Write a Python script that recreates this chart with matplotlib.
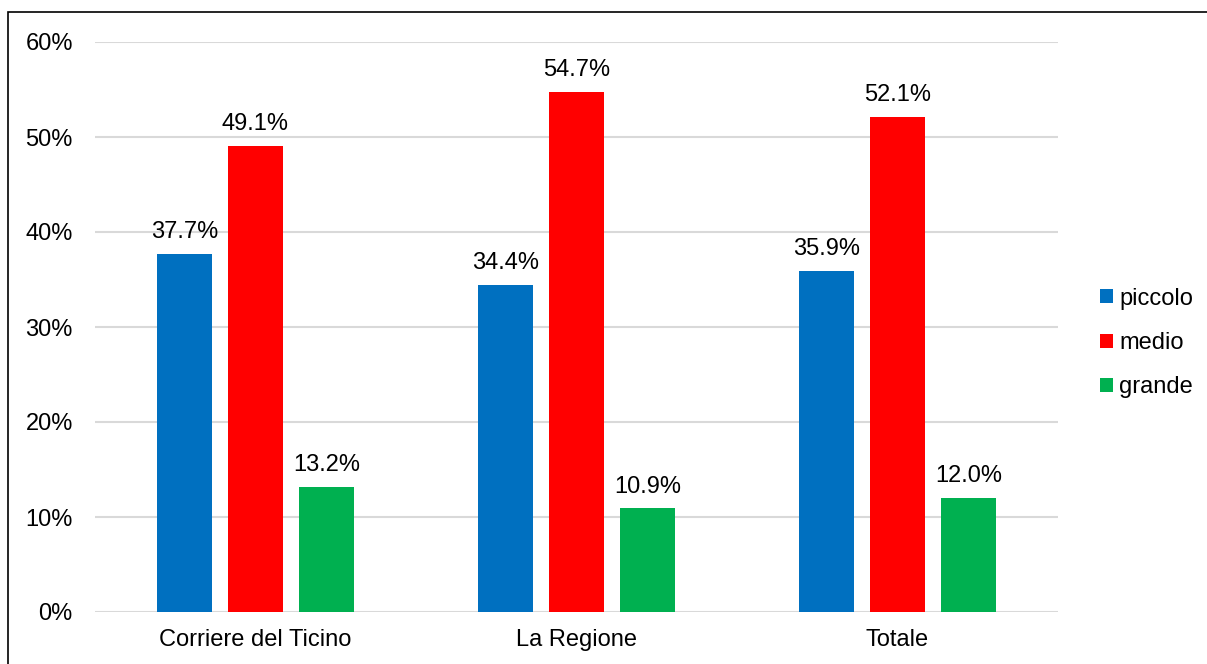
import matplotlib
matplotlib.use("Agg")
import matplotlib.pyplot as plt
import numpy as np
from matplotlib.patches import Rectangle

plt.rcParams["font.family"] = ["Liberation Sans", "DejaVu Sans"]

categories = ["Corriere del Ticino", "La Regione", "Totale"]
series_names = ["piccolo", "medio", "grande"]
piccolo = [37.7, 34.4, 35.9]
medio = [49.1, 54.7, 52.1]
grande = [13.2, 10.9, 12.0]
colors = ["#0070C0", "#FF0000", "#00B050"]

W, H = 1207, 664
FS = 17
fig = plt.figure(figsize=(W / 100, H / 100), dpi=100)
ax = fig.add_axes([95 / W, 1 - 612 / H, (1058 - 95) / W, (612 - 42) / H])

x = np.arange(len(categories))
width = 55 / 321
step = 71 / 321
for i, (name, vals, col) in enumerate(zip(series_names, [piccolo, medio, grande], colors)):
    pos = x + (i - 1) * step
    ax.bar(pos, vals, width, color=col, label=name, zorder=3)
    for p, v in zip(pos, vals):
        ax.text(p, v + 1.15, f"{v:.1f}%", ha="center", va="bottom", fontsize=FS, color="#000000")

ax.set_xlim(-0.5, 2.5)
ax.set_ylim(0, 60)
ax.set_yticks(range(0, 61, 10))
ax.set_yticklabels([f"{t}%" for t in range(0, 61, 10)], fontsize=FS)
ax.set_xticks(x)
ax.set_xticklabels(categories, fontsize=FS)
ax.tick_params(length=0)
ax.tick_params(axis="y", pad=16)
ax.tick_params(axis="x", pad=12)
ax.yaxis.grid(True, color="#d9d9d9", linewidth=1.5, zorder=0)
for s in ax.spines.values():
    s.set_visible(False)

ax.legend(loc="center left", bbox_to_anchor=(1091 / W, 1 - 343 / H), bbox_transform=fig.transFigure,
          frameon=False, fontsize=FS, handlelength=0.55, handleheight=0.55, handletextpad=0.25,
          labelspacing=0.95, borderaxespad=0)

fig.patches.append(Rectangle((8 / W, -0.1), 1.2, 1.1 - 12 / H, transform=fig.transFigure,
                             fill=False, edgecolor="black", linewidth=1.2))

fig.savefig("out.png", dpi=100)
